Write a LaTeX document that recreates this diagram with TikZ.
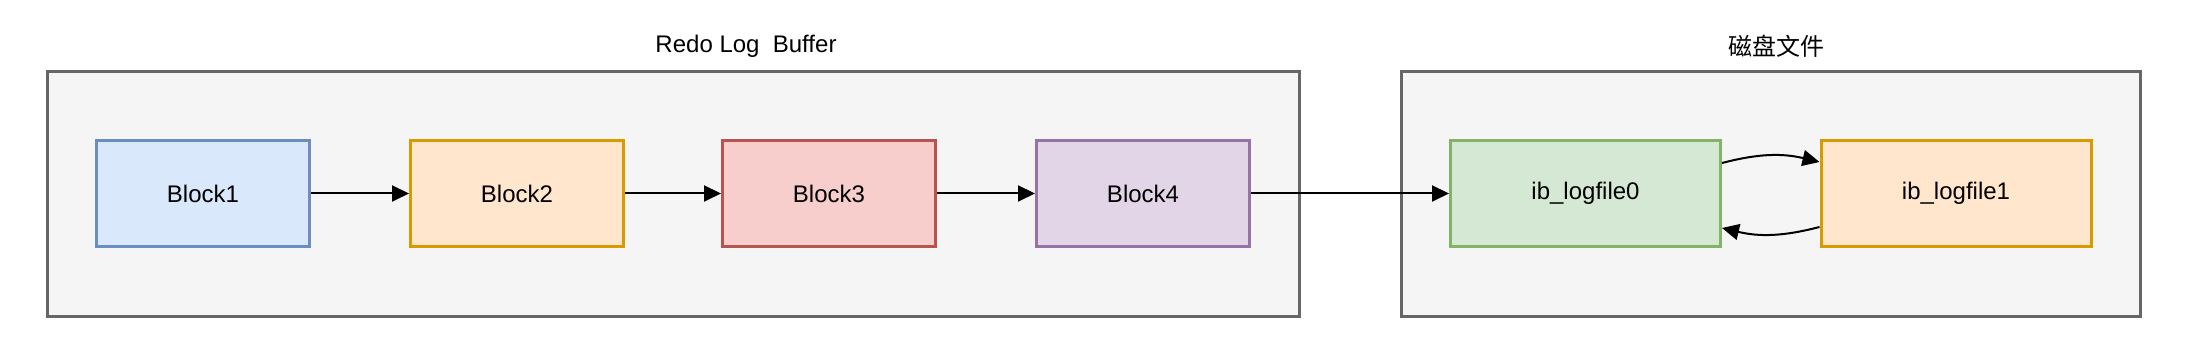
\documentclass[tikz,border=0pt]{standalone}
\usepackage{fontspec}
\setmainfont{Liberation Sans}
\newfontfamily\cjk{Noto Sans CJK SC}
\usetikzlibrary{arrows.meta}

\definecolor{grayfill}{HTML}{F5F5F5}
\definecolor{grayline}{HTML}{666666}
\definecolor{bluefill}{HTML}{DAE8FC}
\definecolor{blueline}{HTML}{6C8EBF}
\definecolor{orangefill}{HTML}{FFE6CC}
\definecolor{orangeline}{HTML}{D79B00}
\definecolor{redfill}{HTML}{F8CECC}
\definecolor{redline}{HTML}{B85450}
\definecolor{purplefill}{HTML}{E1D5E7}
\definecolor{purpleline}{HTML}{9673A6}
\definecolor{greenfill}{HTML}{D5E8D4}
\definecolor{greenline}{HTML}{82B366}

\begin{document}
\begin{tikzpicture}[x=0.5pt, y=-0.5pt, font=\fontsize{12}{14}\selectfont,
        outer/.style={draw=grayline, fill=grayfill, line width=1.5pt, inner sep=0pt, minimum height=122.5pt},
        blk/.style={line width=1.5pt, inner sep=0pt, minimum width=106.5pt, minimum height=53pt},
        logf/.style={blk, minimum width=135pt},
        link/.style={line width=1pt, -{Triangle[length=8.5pt,width=8pt]}}]

        \useasboundingbox (0,0) rectangle (2196,362);

        % the two frames
        \node[outer, minimum width=626pt] (buf) at (673,194) {};
        \node[outer, minimum width=369.5pt] (disk) at (1771,194) {};
        \node (buftitle) at (746,46) {Redo Log\ \ Buffer};
        \node (disktitle) at (1776,46) {\cjk 磁盘文件};

        \node[blk, draw=blueline, fill=bluefill] (b1) at (203,193.5) {Block1};
        \node[blk, draw=orangeline, fill=orangefill] (b2) at (517,193.5) {Block2};
        \node[blk, draw=redline, fill=redfill] (b3) at (829,193.5) {Block3};
        \node[blk, draw=purpleline, fill=purplefill] (b4) at (1143,193.5) {Block4};

        \node[logf, draw=greenline, fill=greenfill] (ib0) at (1585.5,193.5) {ib\_logfile0};
        \node[logf, draw=orangeline, fill=orangefill] (ib1) at (1956,193.5) {ib\_logfile1};

        \draw[link] (b1) -- (b2);
        \draw[link] (b2) -- (b3);
        \draw[link] (b3) -- (b4);
        \draw[link] (b4) -- (ib0);

        \draw[link] ([yshift=-12pt]ib0.north east) to[bend left=14] ([yshift=-11.5pt]ib1.north west);
        \draw[link] ([yshift=10.5pt]ib1.south west) to[bend left=14] ([yshift=10pt]ib0.south east);
\end{tikzpicture}
\end{document}
